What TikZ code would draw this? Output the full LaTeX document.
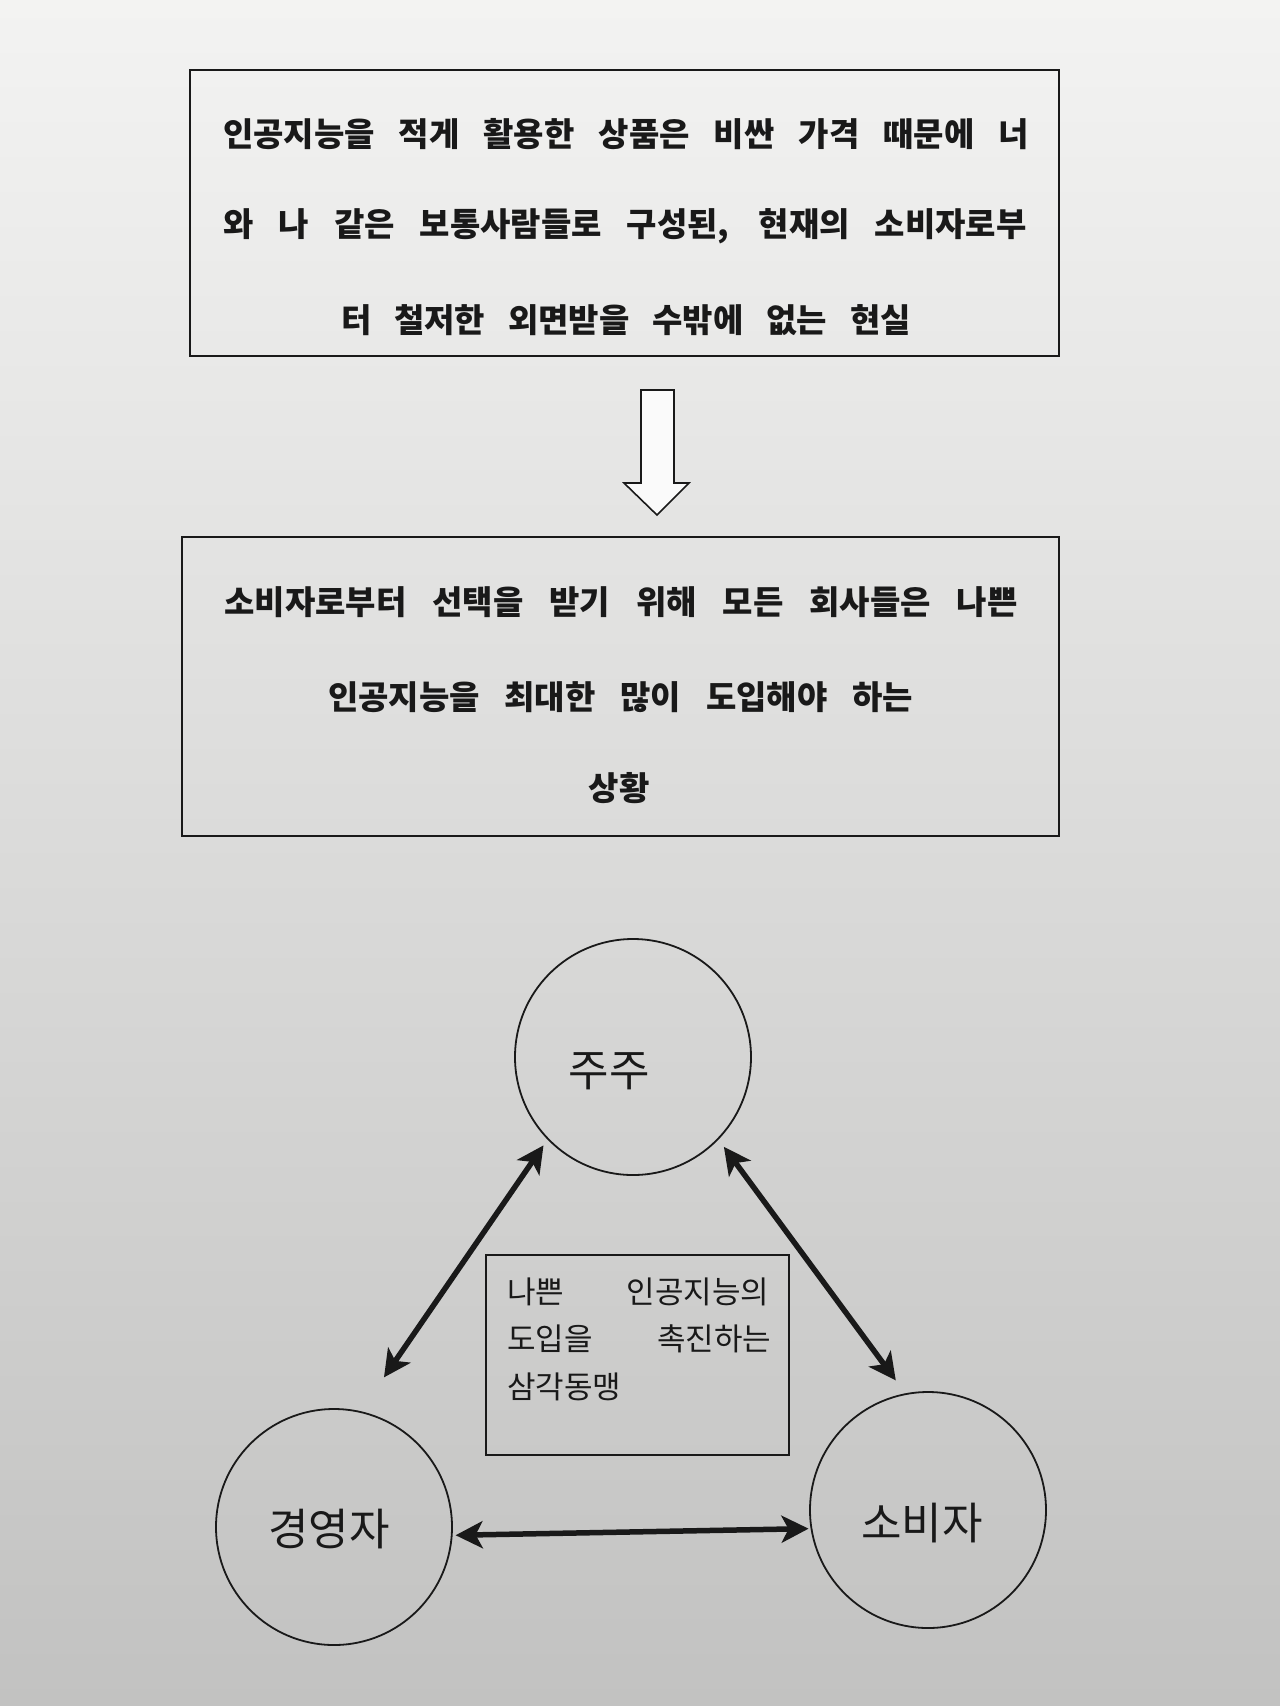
\documentclass[tikz,border=0pt]{standalone}
\usepackage{fontspec}
\newfontfamily\kr{Noto Sans CJK KR}
\usetikzlibrary{arrows.meta}
\definecolor{papertop}{RGB}{243,243,242}
\definecolor{papermid}{RGB}{233,233,232}
\definecolor{paperbot}{RGB}{194,194,193}
\definecolor{ink}{RGB}{25,25,25}
\begin{document}
\begin{tikzpicture}[x=1pt,y=-1pt,
  frame/.style={draw=ink, line width=1.8pt, rectangle, inner sep=0pt},
  boldline/.style={font=\kr\bfseries\fontsize{33}{33}\selectfont, inner sep=0pt, text=ink},
  midline/.style={font=\kr\fontsize{31}{31}\selectfont, inner sep=0pt, text=ink, anchor=west},
  ring/.style={draw=ink, circle, line width=1.8pt, minimum size=236pt, inner sep=0pt},
  ringtext/.style={font=\kr\fontsize{44}{44}\selectfont, inner sep=0pt, text=ink},
  link/.style={draw=ink, line width=5.5pt, {Stealth[length=27pt,width=27pt,inset=7pt]}-{Stealth[length=27pt,width=27pt,inset=7pt]}}]
\useasboundingbox (0,0) rectangle (1280,1706);
\shade[top color=papertop, middle color=papermid, bottom color=paperbot] (0,0) rectangle (1280,1706);

% top box
\node[frame, minimum width=869pt, minimum height=286pt] (box1) at (624.5,213) {};
\node[boldline] (t1a) at (626,134) {\makebox[806pt][s]{인공지능을 적게 활용한 상품은 비싼 가격 때문에 너}};
\node[boldline] (t1b) at (625,226) {\makebox[803pt][s]{와 나 같은 보통사람들로 구성된, 현재의 소비자로부}};
\node[boldline] (t1c) at (626,320) {\makebox[570pt][s]{터 철저한 외면받을 수밖에 없는 현실}};

% hollow arrow
\draw[draw=ink, line width=1.6pt, fill=white!60!papertop, line join=miter]
  (641,390) -- (674,390) -- (674,483) -- (689,483) -- (657,515) -- (624,483) -- (641,483) -- cycle;

% second box
\node[frame, minimum width=877pt, minimum height=299pt] (box2) at (620.5,686.5) {};
\node[boldline] (t2a) at (621,602) {\makebox[793pt][s]{소비자로부터 선택을 받기 위해 모든 회사들은 나쁜}};
\node[boldline] (t2b) at (620.5,697) {\makebox[585pt][s]{인공지능을 최대한 많이 도입해야 하는}};
\node[boldline] (t2c) at (619,788) {상황};

% triangle
\node[ring] (zhu) at (633,1057) {};
\node[ring] (gy) at (334,1527) {};
\node[ring] (sb) at (928,1510) {};
\node[ringtext] (zhut) at (609,1071) {주주};
\node[ringtext] (gyt) at (329,1529) {경영자};
\node[ringtext] (sbt) at (922,1523) {소비자};

\node[frame, minimum width=303pt, minimum height=200pt] (box3) at (637.5,1355) {};
\node[midline] (m1) at (507,1292) {\makebox[262pt][s]{나쁜 인공지능의}};
\node[midline] (m2) at (507,1339) {\makebox[264pt][s]{도입을 촉진하는}};
\node[midline] (m3) at (507,1387) {삼각동맹};

\draw[link, shorten <=7pt, shorten >=41pt] (zhu.224) -- (gy.77.5);
\draw[link, shorten <=9pt, shorten >=16pt] (zhu.316) -- (sb.101.4);
\draw[link, shorten <=3pt, shorten >=2pt] (gy.-4.9) -- (sb.189.8);
\end{tikzpicture}
\end{document}
